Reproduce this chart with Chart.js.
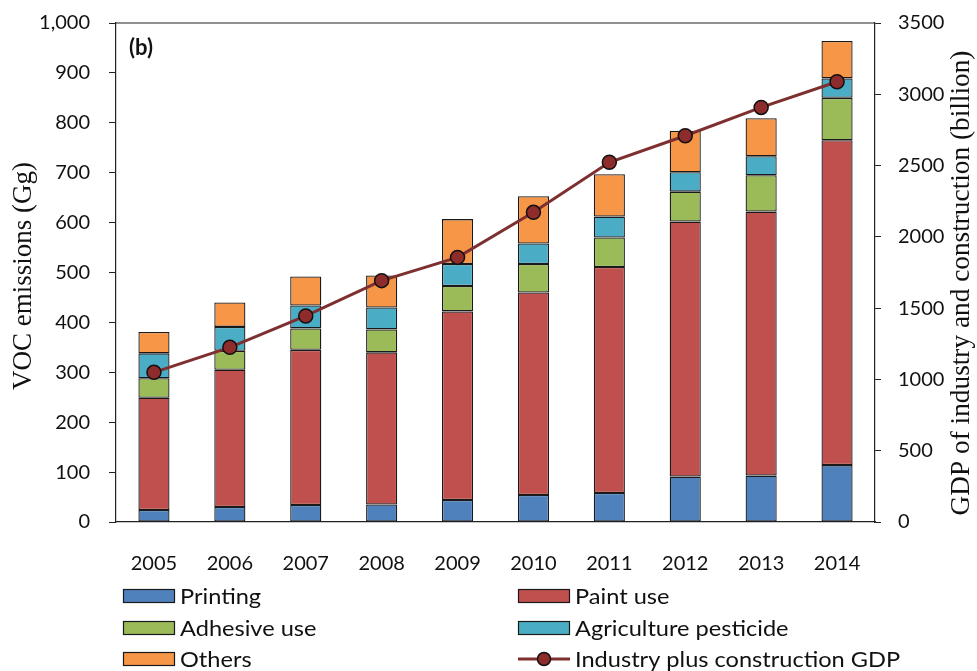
<!DOCTYPE html>
<html>
<head>
<meta charset="utf-8">
<script src="https://cdn.jsdelivr.net/npm/chart.js@4.4.1/dist/chart.umd.min.js"></script>
<style>
  html,body{margin:0;padding:0;background:#fff;}
  #wrap{width:977px;height:671px;position:relative;}
</style>
</head>
<body>
<div id="wrap"><canvas id="chart"></canvas></div>
<script>
/* ---- data ---- */
const years     = ['2005','2006','2007','2008','2009','2010','2011','2012','2013','2014'];
const printing  = [24, 30, 34, 35, 44, 54, 58, 91, 93, 114];
const paintUse  = [225, 275, 311, 305, 378, 406, 453, 511, 529, 651];
const adhesive  = [39, 38, 43, 46, 51, 57, 59, 60, 73, 85];
const pesticide = [50, 48, 46, 44, 44, 41, 42, 39, 38, 39];
const others    = [43, 49, 58, 64, 90, 95, 85, 83, 76, 75];
const gdp       = [1050, 1225, 1445, 1693, 1856, 2172, 2523, 2709, 2908, 3088];

const sans     = 'Lato, "Liberation Sans", sans-serif';
const serif    = '"Liberation Serif", "Times New Roman", serif';
const tickFont = { family:sans, size:20 };

const bar = (label, data, color) => ({
  type:'bar', label, data, backgroundColor:color,
  borderColor:'#1a1a1a', borderWidth:1.3, borderSkipped:false, yAxisID:'y', order:1,
  barPercentage:0.41, categoryPercentage:1
});

// rotated title, sized so its length matches the figure
function sideTitle(ctx, text, x, y, len){
  ctx.save();
  ctx.font = '20px ' + serif;
  const size = 20 * len / ctx.measureText(text).width;
  ctx.font = size.toFixed(1) + 'px ' + serif;
  ctx.translate(x, y);
  ctx.rotate(-Math.PI / 2);
  ctx.textAlign = 'center';
  ctx.textBaseline = 'middle';
  ctx.fillStyle = '#111';
  ctx.fillText(text, 0, 0);
  ctx.restore();
}

/* ---- frame, "(b)", axis titles, two-column legend ---- */
const extras = {
  id:'extras',
  afterDraw(chart){
    const {ctx, chartArea:a} = chart;
    ctx.save();
    ctx.strokeStyle = '#222'; ctx.lineWidth = 1.2;
    ctx.beginPath(); ctx.moveTo(a.left, a.top); ctx.lineTo(a.right, a.top); ctx.stroke();

    ctx.fillStyle = '#111';
    ctx.font = 'bold 22px ' + sans;
    ctx.textBaseline = 'middle';
    ctx.fillText('(b)', a.left + 13, a.top + 25);

    sideTitle(ctx, 'VOC emissions (Gg)', 24, 276, 228);
    sideTitle(ctx, 'GDP of industry and construction (billion)', 962, 283, 465);

    const rows = [596, 628, 659], cols = [123, 518];
    ctx.font = '20.5px ' + sans;
    chart.data.datasets.forEach((ds, i) => {
      const x = cols[i % 2], y = rows[Math.floor(i / 2)];
      if (ds.type === 'bar') {
        ctx.fillStyle = ds.backgroundColor;
        ctx.fillRect(x, y - 7, 52, 14);
        ctx.strokeStyle = '#1a1a1a'; ctx.lineWidth = 1.2;
        ctx.strokeRect(x + .5, y - 6.5, 51, 13);
      } else {
        ctx.strokeStyle = ds.borderColor; ctx.lineWidth = 3;
        ctx.beginPath(); ctx.moveTo(x, y); ctx.lineTo(x + 52, y); ctx.stroke();
        ctx.fillStyle = ds.pointBackgroundColor;
        ctx.beginPath(); ctx.arc(x + 26, y, 6.5, 0, Math.PI * 2); ctx.fill();
        ctx.strokeStyle = '#111'; ctx.lineWidth = 1.5; ctx.stroke();
      }
      // the figure's legend text is a little stretched sideways
      ctx.save();
      ctx.translate(x + 57, y + 1);
      ctx.scale(1.15, 1);
      ctx.fillStyle = '#111';
      ctx.textAlign = 'left';
      ctx.textBaseline = 'middle';
      ctx.fillText(ds.label, 0, 0);
      ctx.restore();
    });
    ctx.restore();
  }
};

new Chart(document.getElementById('chart'), {
  data:{
    labels: years,
    datasets:[
      bar('Printing', printing, '#4F81BD'),
      bar('Paint use', paintUse, '#C0504D'),
      bar('Adhesive use', adhesive, '#9BBB59'),
      bar('Agriculture pesticide', pesticide, '#4BACC6'),
      bar('Others', others, '#F79646'),
      { type:'line', label:'Industry plus construction GDP', data:gdp, yAxisID:'y1', order:0,
        borderColor:'#7E2F2F', borderWidth:3, pointRadius:7, pointBackgroundColor:'#8E2B2B',
        pointBorderColor:'#111', pointBorderWidth:1.5, tension:0 }
    ]
  },
  options:{
    responsive:true, maintainAspectRatio:false, animation:false,
    layout:{ padding:{ top:23, bottom:94, left:0, right:0 } },
    plugins:{ legend:{ display:false }, tooltip:{ enabled:false } },
    scales:{
      x:{
        stacked:true,
        grid:{ display:false },
        border:{ display:true, color:'#222', width:1.2 },
        ticks:{ color:'#111', font:tickFont, padding:22, maxRotation:0 },
        afterFit:s => { s.height = 55; s.paddingLeft = 0; s.paddingRight = 0; }
      },
      y:{
        stacked:true, position:'left', min:0, max:1000,
        border:{ display:true, color:'#222', width:1.2 },
        grid:{ drawOnChartArea:false, drawTicks:true, tickLength:7, color:'#222' },
        ticks:{ stepSize:100, color:'#111', font:tickFont, padding:19,
                callback:v => v.toLocaleString('en-US') },
        afterFit:s => { s.width = 116; s.paddingTop = 0; s.paddingBottom = 0; }
      },
      y1:{
        position:'right', min:0, max:3500,
        border:{ display:true, color:'#222', width:1.2 },
        grid:{ drawOnChartArea:false, drawTicks:true, tickLength:6, color:'#222' },
        ticks:{ stepSize:500, color:'#111', font:tickFont, padding:17,
                callback:v => String(v) },
        afterFit:s => { s.width = 102; s.paddingTop = 0; s.paddingBottom = 0; }
      }
    }
  },
  plugins:[extras]
});
</script>
</body>
</html>
